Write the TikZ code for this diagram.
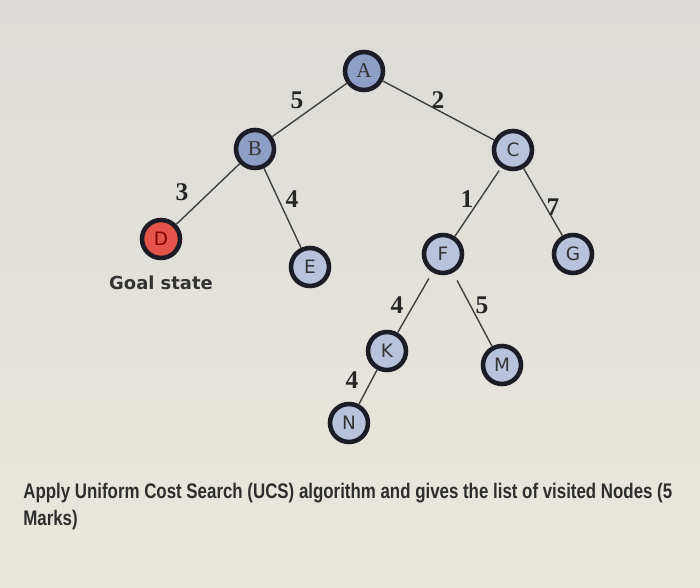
\documentclass[tikz,border=0pt]{standalone}
\usepackage{fontspec}
\usepackage{graphicx}
\setmainfont{Liberation Serif}
\setsansfont{DejaVu Sans}
\newfontfamily\qfont{Liberation Sans}
\usetikzlibrary{positioning}
\definecolor{fondo}{HTML}{EAE7DD}
\definecolor{fondoalto}{HTML}{DCDBD7}
\definecolor{nodoazul}{HTML}{B7C3DB}
\definecolor{nodoosc}{HTML}{8E9FC6}
\definecolor{meta}{HTML}{E4544B}
\definecolor{borde}{HTML}{1C1C26}

\begin{document}
\begin{tikzpicture}[x=0.02cm, y=-0.02cm,
      v/.style={circle, draw=borde, line width=2.6pt, fill=nodoazul, minimum size=0.76cm,
                inner sep=0pt, font=\sffamily\fontsize{10.5}{10.5}\selectfont, text=black!80},
      vs/.style={v, fill=nodoosc, font=\rmfamily\fontsize{12}{12}\selectfont},
      w/.style={font=\rmfamily\bfseries\fontsize{14.5}{14.5}\selectfont, text=black!85, inner sep=0pt},
      e/.style={draw=black!75, line width=0.8pt}]
    \shade[top color=fondoalto, bottom color=fondo] (0,0) rectangle (700,588);
    % the tree
    \node[vs] (a) at (364,71)  {A};
    \node[vs] (b) at (255,149) {B};
    \node[v]  (c) at (513,150) {C};
    \node[v, fill=meta, text=red!50!black] (d) at (161,239) {D};
    \node[v]  (e) at (310,267) {E};
    \node[v]  (f) at (443,254) {F};
    \node[v]  (g) at (573,254) {G};
    \node[v]  (k) at (387,351) {K};
    \node[v]  (m) at (502,365) {M};
    \node[v]  (n) at (349,423) {N};
    \foreach \p/\c/\s in {a/b/0,a/c/0,b/d/0,b/e/0,c/f/2,c/g/0,f/k/4,f/m/5,k/n/0}
      \draw[e, shorten <=\s pt] (\p) -- (\c);
    % costs
    \node[w] (wab) at (297,100) {5};
    \node[w] (wac) at (438,100) {2};
    \node[w] (wbd) at (182,192) {3};
    \node[w] (wbe) at (292,199) {4};
    \node[w] (wcf) at (467,199) {1};
    \node[w] (wcg) at (553,207) {7};
    \node[w] (wfk) at (397,305) {4};
    \node[w] (wfm) at (482,305) {5};
    \node[w] (wkn) at (352,380) {4};
    \node[font=\sffamily\bfseries\fontsize{10.2}{12}\selectfont, text=black!80, inner sep=0pt,
          below=0.3cm of d] (goal) {Goal state};
    % question
    \node[anchor=west, inner sep=0pt, text=black!82] (q) at (23,507)
      {\resizebox{12.98cm}{\height}{\qfont\bfseries\fontsize{12}{15.4}\selectfont
       \begin{tabular}{@{}l@{}}Apply Uniform Cost Search (UCS) algorithm and gives the list of visited Nodes (5\\Marks)\end{tabular}}};
  \end{tikzpicture}
\end{document}
